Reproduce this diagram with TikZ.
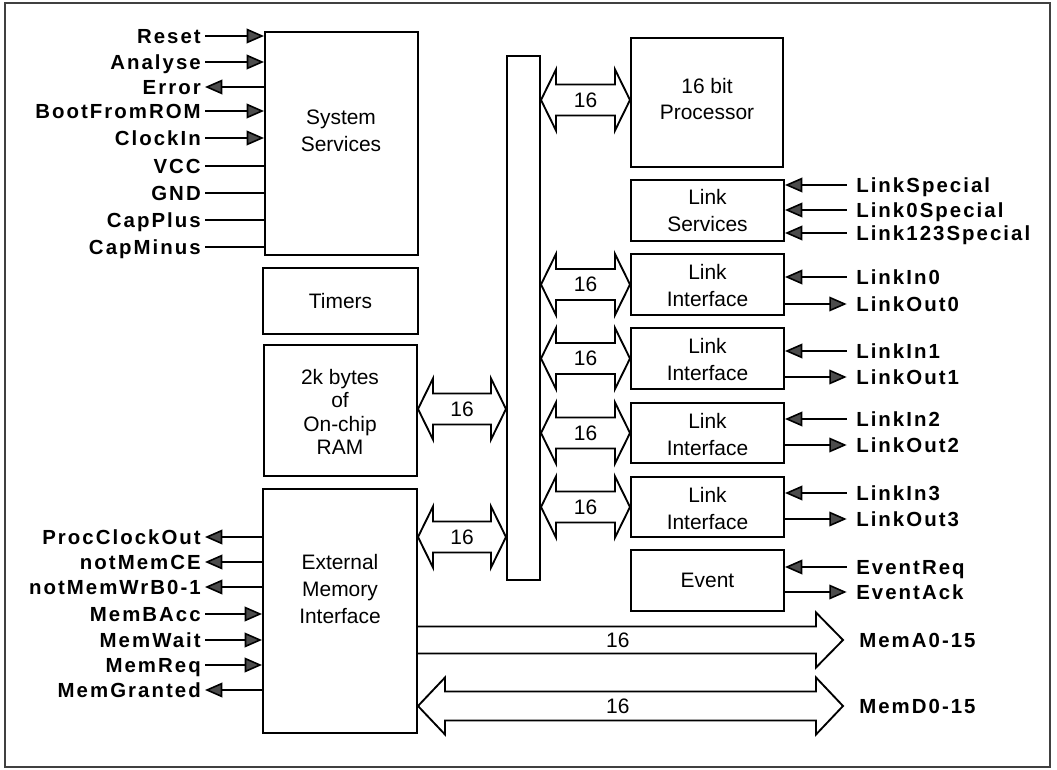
\documentclass[tikz,border=0pt]{standalone}
\usepackage{fontspec}
\usetikzlibrary{arrows.meta,calc,fit}
\newfontfamily\sigfont[LetterSpace=10]{Liberation Sans}
\newfontfamily\boxfont{Liberation Sans}
% double headed bus arrow: name, left tip, right tip
\newcommand\busarr[3]{%
  \draw[bus] #2 coordinate (#1-a) -- ++(15,-30.5) -- ++(0,15)
    -- ($#3+(-15,-15.5)$) -- ++(0,-15) -- #3 coordinate (#1-b)
    -- ++(-15,30.5) -- ++(0,-15) -- ($#2+(15,15.5)$) -- ++(0,15) -- cycle;
  \path (#1-a) -- node[num] (#1) {16} (#1-b);}

\begin{document}
\begin{tikzpicture}[x=0.75pt,y=-0.75pt,
    >={Triangle[length=13pt,width=11pt,fill=black!70]},
    blk/.style={draw,line width=1.5pt,inner sep=0pt},
    txt/.style={inner sep=0pt,align=center,font=\boxfont\fontsize{15.7}{20}\selectfont},
    num/.style={inner sep=0pt,font=\boxfont\fontsize{15.7}{18}\selectfont},
    sig/.style={inner sep=0pt,text height=11pt,text depth=0pt,
      font=\sigfont\bfseries\fontsize{15.3}{17}\selectfont},
    bus/.style={line width=1.4pt,line join=miter},
    wire/.style={line width=1.2pt},
    wi/.style={->}, wo/.style={<-}, wn/.style={}
  ]
  \useasboundingbox (0,0) rectangle (1057,770);
  \draw[line width=0.8pt,black!75] (5,3) rectangle (1050,767);

  % blocks
  \node[blk,fit={(265,32)(418,255)}] (sys) {};
  \node[txt] (sysT) at (341,131) {System\\Services};
  \node[blk,fit={(263,268)(418,334)}] (tim) {};
  \node[txt] (timT) at (tim.center) {Timers};
  \node[blk,fit={(264,345)(417,476)}] (ram) {};
  \node[txt,font=\boxfont\fontsize{15.7}{17.6}\selectfont] (ramT) at (340,412)
    {2k bytes\\of\\On-chip\\RAM};
  \node[blk,fit={(263,489)(417,733)}] (emi) {};
  \node[txt] (emiT) at (340,589) {External\\Memory\\Interface};
  \node[blk,fit={(507,56)(540,580)}] (bus) {};
  \node[blk,fit={(631,38)(783,167)}] (proc) {};
  \node[txt] (procT) at (707,99) {16 bit\\Processor};
  \node[blk,fit={(631,180)(784,241)}] (lsvc) {};
  \node[txt] (lsvcT) at (lsvc.center) {Link\\Services};
  \foreach \b/\t/\u in {li0/254/315, li1/328/389, li2/403/463, li3/477/537} {
    \node[blk,fit={(631,\t)(784,\u)}] (\b) {};
    \node[txt] (\b T) at ([yshift=-1]\b.center) {Link\\Interface};
  }
  \node[blk,fit={(631,550)(784,611)}] (evt) {};
  \node[txt] (evtT) at (evt.center) {Event};

  % 16 bit paths to the bus
  \busarr{bproc}{(bus.east |- 0,100)}{(proc.west |- 0,100)}
  \busarr{bram}{(ram.east |- 0,409)}{(bus.west |- 0,409)}
  \busarr{bemi}{(emi.east |- 0,537)}{(bus.west |- 0,537)}
  \foreach \b in {li0,li1,li2,li3}
    \busarr{b\b}{(bus.east |- \b.west)}{(\b.west)};

  % external memory buses
  \coordinate (memA) at (843,640);
  \coordinate (memD) at (843,706);
  \draw[bus] ($(emi.east |- memA)+(0,-13.5)$) -- ($(memA)+(-27,-13.5)$) -- ++(0,-14)
    -- (memA) -- ++(-27,27.5) -- ++(0,-14) -- ($(emi.east |- memA)+(0,13.5)$);
  \draw[bus] (emi.east |- memD) -- ++(27,-28.5) -- ++(0,14) -- ($(memD)+(-27,-14.5)$)
    -- ++(0,-14) -- (memD) -- ++(-27,28.5) -- ++(0,-14) -- ($(emi.east |- memD)+(27,14.5)$)
    -- ++(0,14) -- cycle;
  \path (emi.east |- memA) -- node[num,pos=0.47] (nA) {16} (memA);
  \path (emi.east |- memD) -- node[num,pos=0.47] (nD) {16} (memD);
  \node[sig,anchor=west] (lmemA) at ([xshift=12]memA) {MemA0-15};
  \node[sig,anchor=west] (lmemD) at ([xshift=12]memD) {MemD0-15};

  % signals on the left
  \foreach \t/\y/\d/\b [count=\i] in {Reset/36/i/sys, Analyse/62/i/sys, Error/87/o/sys,
      BootFromROM/111/i/sys, ClockIn/138/i/sys, VCC/166/n/sys, GND/193/n/sys,
      CapPlus/220/n/sys, CapMinus/247/n/sys,
      ProcClockOut/537/o/emi, notMemCE/562/o/emi, notMemWrB0-1/587/o/emi,
      MemBAcc/614/i/emi, MemWait/640/i/emi, MemReq/665/i/emi, MemGranted/690/o/emi} {
    \node[sig,anchor=east] (ls\i) at (201,\y) {\t};
    \draw[wire,w\d] ([xshift=3]ls\i.east) -- (ls\i.east -| \b.west);
  }

  % signals on the right
  \foreach \t/\y/\d/\b [count=\i] in {LinkSpecial/185/i/lsvc, Link0Special/210/i/lsvc,
      Link123Special/233/i/lsvc, LinkIn0/277/i/li0, LinkOut0/304/o/li0,
      LinkIn1/351/i/li1, LinkOut1/377/o/li1, LinkIn2/419/i/li2, LinkOut2/445/o/li2,
      LinkIn3/493/i/li3, LinkOut3/519/o/li3, EventReq/567/i/evt, EventAck/592/o/evt} {
    \node[sig,anchor=west] (rs\i) at (856,\y) {\t};
    \draw[wire,w\d] ([xshift=-7]rs\i.west) -- (rs\i.west -| \b.east);
  }
\end{tikzpicture}
\end{document}
